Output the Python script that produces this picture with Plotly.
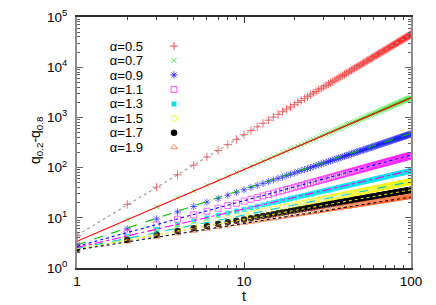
import plotly.graph_objects as go

T = list(range(1, 101))

LABELS = ["α=0.5", "α=0.7", "α=0.9", "α=1.1", "α=1.3", "α=1.5", "α=1.7", "α=1.9"]

Q05 = [4.4, 18.5, 41, 72, 112, 163, 220, 287, 365, 450,
       545, 648, 760, 880, 1010, 1150, 1300, 1460, 1620, 1800,
       1980, 2180, 2380, 2590, 2810, 3040, 3280, 3530, 3780, 4050,
       4320, 4610, 4900, 5200, 5510, 5830, 6160, 6500, 6840, 7200,
       7560, 7940, 8320, 8710, 9110, 9520, 9940, 10400, 10800, 11250,
       11700, 12200, 12600, 13100, 13600, 14100, 14600, 15100, 15700, 16200,
       16700, 17300, 17900, 18400, 19000, 19600, 20200, 20800, 21400, 22000,
       22700, 23300, 24000, 24600, 25300, 26000, 26700, 27400, 28100, 28800,
       29500, 30300, 31000, 31800, 32500, 33300, 34100, 34800, 35600, 36500,
       37300, 38100, 38900, 39800, 40600, 41500, 42300, 43200, 44100, 45000]

Q07 = [3.8, 9.3, 16.6, 25.0, 34.4, 44.6, 55.6, 67.3, 79.6, 92.5,
       106, 120, 135, 150, 165, 181, 198, 214, 232, 249,
       267, 285, 304, 323, 343, 362, 382, 403, 424, 445,
       466, 488, 509, 532, 554, 577, 600, 623, 647, 671,
       695, 719, 744, 769, 794, 819, 845, 870, 896, 923,
       949, 976, 1003, 1030, 1057, 1085, 1113, 1140, 1169, 1197,
       1226, 1254, 1283, 1313, 1342, 1371, 1402, 1431, 1461, 1492,
       1522, 1553, 1584, 1615, 1647, 1678, 1709, 1741, 1773, 1805,
       1838, 1870, 1903, 1936, 1969, 2001, 2035, 2069, 2102, 2136,
       2170, 2204, 2239, 2273, 2307, 2343, 2377, 2412, 2448, 2483]

Q09 = [2.9, 6.05, 9.49, 13.1, 16.8, 20.5, 24.3, 28.2, 32.2, 36.2,
       40.2, 44.3, 48.4, 52.6, 56.8, 61.0, 65.2, 69.5, 73.8, 78.1,
       82.5, 86.9, 91.2, 95.7, 100, 105, 109, 114, 118, 123,
       127, 132, 136, 141, 146, 150, 155, 159, 164, 169,
       174, 178, 183, 188, 192, 197, 202, 207, 212, 216,
       221, 226, 231, 236, 240, 245, 250, 255, 260, 265,
       270, 275, 280, 285, 289, 294, 299, 304, 309, 314,
       319, 324, 329, 334, 339, 344, 349, 355, 360, 365,
       370, 375, 380, 385, 390, 395, 400, 405, 410, 416,
       421, 426, 431, 436, 441, 447, 452, 457, 462, 467]

Q11 = [2.7, 5.0, 7.19, 9.35, 11.5, 13.5, 15.5, 17.6, 19.5, 21.5,
       23.4, 25.4, 27.3, 29.2, 31.1, 32.9, 34.8, 36.7, 38.5, 40.4,
       42.2, 44.0, 45.8, 47.6, 49.4, 51.2, 53.0, 54.8, 56.6, 58.3,
       60.1, 61.9, 63.6, 65.4, 67.1, 68.9, 70.6, 72.4, 74.1, 75.8,
       77.5, 79.2, 80.9, 82.6, 84.4, 86.1, 87.8, 89.4, 91.1, 92.8,
       94.5, 96.2, 97.9, 99.6, 101, 103, 105, 106, 108, 110,
       111, 113, 115, 116, 118, 120, 121, 123, 124, 126,
       128, 129, 131, 133, 134, 136, 138, 139, 141, 142,
       144, 146, 147, 149, 150, 152, 154, 155, 157, 158,
       160, 162, 163, 165, 166, 168, 170, 171, 173, 174]

Q13 = [2.5, 4.26, 5.82, 7.26, 8.62, 9.92, 11.2, 12.4, 13.6, 14.7,
       15.8, 16.9, 18.0, 19.0, 20.1, 21.1, 22.1, 23.1, 24.1, 25.0,
       26.0, 27.0, 27.9, 28.8, 29.7, 30.6, 31.5, 32.4, 33.3, 34.2,
       35.1, 35.9, 36.8, 37.7, 38.5, 39.4, 40.2, 41.0, 41.9, 42.7,
       43.5, 44.3, 45.1, 45.9, 46.7, 47.5, 48.3, 49.1, 49.9, 50.7,
       51.5, 52.2, 53.0, 53.8, 54.5, 55.3, 56.0, 56.8, 57.6, 58.3,
       59.1, 59.8, 60.5, 61.3, 62.0, 62.7, 63.5, 64.2, 64.9, 65.7,
       66.4, 67.1, 67.8, 68.5, 69.2, 69.9, 70.6, 71.3, 72.0, 72.7,
       73.4, 74.1, 74.8, 75.5, 76.2, 76.9, 77.6, 78.3, 79.0, 79.6,
       80.3, 81.0, 81.7, 82.4, 83.0, 83.7, 84.4, 85.0, 85.7, 86.4]

Q15 = [2.45, 3.89, 5.10, 6.17, 7.16, 8.09, 8.97, 9.80, 10.6, 11.4,
       12.1, 12.9, 13.6, 14.2, 14.9, 15.6, 16.2, 16.8, 17.5, 18.1,
       18.7, 19.2, 19.8, 20.4, 21.0, 21.5, 22.1, 22.6, 23.1, 23.7,
       24.2, 24.7, 25.2, 25.7, 26.2, 26.7, 27.2, 27.7, 28.2, 28.7,
       29.1, 29.6, 30.1, 30.5, 31.0, 31.5, 31.9, 32.4, 32.8, 33.3,
       33.7, 34.1, 34.6, 35.0, 35.4, 35.9, 36.3, 36.7, 37.1, 37.5,
       38.0, 38.4, 38.8, 39.2, 39.6, 40.0, 40.4, 40.8, 41.2, 41.6,
       42.0, 42.4, 42.8, 43.2, 43.6, 44.0, 44.4, 44.7, 45.1, 45.5,
       45.9, 46.3, 46.6, 47.0, 47.4, 47.7, 48.1, 48.5, 48.9, 49.2,
       49.6, 49.9, 50.3, 50.7, 51.0, 51.4, 51.7, 52.1, 52.4, 52.8]

Q17 = [2.35, 3.61, 4.58, 5.43, 6.19, 6.89, 7.54, 8.15, 8.74, 9.30,
       9.83, 10.4, 10.9, 11.3, 11.8, 12.3, 12.7, 13.1, 13.6, 14.0,
       14.4, 14.8, 15.2, 15.6, 15.9, 16.3, 16.7, 17.0, 17.4, 17.8,
       18.1, 18.4, 18.8, 19.1, 19.4, 19.8, 20.1, 20.4, 20.7, 21.0,
       21.3, 21.6, 21.9, 22.2, 22.5, 22.8, 23.1, 23.4, 23.7, 24.0,
       24.2, 24.5, 24.8, 25.1, 25.3, 25.6, 25.9, 26.2, 26.4, 26.7,
       26.9, 27.2, 27.5, 27.7, 28.0, 28.2, 28.5, 28.7, 29.0, 29.2,
       29.5, 29.7, 29.9, 30.2, 30.4, 30.7, 30.9, 31.1, 31.4, 31.6,
       31.8, 32.1, 32.3, 32.5, 32.7, 33.0, 33.2, 33.4, 33.6, 33.9,
       34.1, 34.3, 34.5, 34.7, 35.0, 35.2, 35.4, 35.6, 35.8, 36.0]

Q19 = [2.25, 3.38, 4.19, 4.88, 5.48, 6.04, 6.55, 7.02, 7.47, 7.90,
       8.30, 8.69, 9.07, 9.43, 9.77, 10.1, 10.4, 10.8, 11.1, 11.4,
       11.7, 12.0, 12.2, 12.5, 12.8, 13.1, 13.3, 13.6, 13.8, 14.1,
       14.3, 14.6, 14.8, 15.0, 15.3, 15.5, 15.7, 15.9, 16.2, 16.4,
       16.6, 16.8, 17.0, 17.2, 17.4, 17.6, 17.8, 18.0, 18.2, 18.4,
       18.6, 18.8, 19.0, 19.2, 19.4, 19.6, 19.7, 19.9, 20.1, 20.3,
       20.5, 20.6, 20.8, 21.0, 21.1, 21.3, 21.5, 21.7, 21.8, 22.0,
       22.2, 22.3, 22.5, 22.6, 22.8, 23.0, 23.1, 23.3, 23.4, 23.6,
       23.7, 23.9, 24.0, 24.2, 24.4, 24.5, 24.7, 24.8, 25.0, 25.1,
       25.2, 25.4, 25.5, 25.7, 25.8, 26.0, 26.1, 26.3, 26.4, 26.5]

SERIES = [Q05, Q07, Q09, Q11, Q13, Q15, Q17, Q19]

# fitted asymptotic lines (endpoints at t=1 and t=100)
LINE_T = [1, 100]
LINE_05 = [4.5, 45000]
LINE_07 = [3.4, 2450]
LINE_09 = [2.9, 482]
LINE_11 = [2.7, 178]
LINE_13 = [2.55, 88]
LINE_15 = [2.45, 52.6]
LINE_17 = [2.4, 36]
LINE_19 = [2.3, 26]
LINES = [LINE_05, LINE_07, LINE_09, LINE_11, LINE_13, LINE_15, LINE_17, LINE_19]

Y_TICKS = [1, 10, 100, 1000, 10000, 100000]
Y_TICKTEXT = ["10<sup>0</sup>", "10<sup>1</sup>", "10<sup>2</sup>",
              "10<sup>3</sup>", "10<sup>4</sup>", "10<sup>5</sup>"]
X_TICKS = [1, 10, 100]
X_TICKTEXT = ["1", "10", "100"]
X_MINOR = [2, 3, 4, 5, 6, 7, 8, 9, 20, 30, 40, 50, 60, 70, 80, 90]
Y_MINOR = [m * 10 ** k for k in range(5) for m in range(2, 10)]

COLORS = ["#ff2020", "#20e020", "#2020ff", "#ff20ff", "#00e8e8", "#f4f400", "#000000", "#ff6a30"]
SYMBOLS = ["cross-thin-open", "x-thin-open", "asterisk-open", "square-open",
           "square", "circle-open", "circle", "triangle-up-open"]
SIZES = [6, 5, 6, 6, 5, 6, 6.5, 6]

LINE_COLORS = ["#9a9a9a", "#ff0000", "#00c000", "#0000ff", "#ff00ff", "#00d0d0", "#e0e000", "#000000"]
LINE_DASH = ["dot", "solid", "dash", "dot", "dashdot", "dash", "dot", "dot"]

FONT = "Liberation Sans, Arial, sans-serif"

fig = go.Figure()

for lab, vals, col, sym, sz in zip(LABELS, SERIES, COLORS, SYMBOLS, SIZES):
    filled = sym in ("square", "circle")
    fig.add_trace(go.Scatter(
        x=T, y=vals, mode="markers", name=lab, showlegend=False,
        marker=dict(symbol=sym, size=sz, color=col, opacity=0.85,
                    line=dict(color=col, width=0.8 if not filled else 0)),
    ))

for vals, col, dash in zip(LINES, LINE_COLORS, LINE_DASH):
    fig.add_trace(go.Scatter(
        x=LINE_T, y=vals, mode="lines", showlegend=False, hoverinfo="skip",
        line=dict(color=col, width=1.1, dash=dash),
    ))

# key (gnuplot style: text on the left, symbol on the right)
for lab, col, sym, sz in zip(LABELS, COLORS, SYMBOLS, SIZES):
    filled = sym in ("square", "circle")
    fig.add_trace(go.Scatter(
        x=[0], y=[lab], mode="markers", xaxis="x2", yaxis="y2",
        showlegend=False, hoverinfo="skip",
        marker=dict(symbol=sym, size=sz, color=col,
                    line=dict(color=col, width=0.8 if not filled else 0)),
    ))

W, H = 436, 305
ML, MR, MT, MB = 77, 25, 17, 37
PW = W - ML - MR
PH = H - MT - MB

def px_x(px):
    return (px - ML) / PW

def px_y(py):
    return (H - MB - py) / PH

fig.update_layout(
    width=W, height=H,
    margin=dict(l=ML, r=MR, t=MT, b=MB, autoexpand=False),
    paper_bgcolor="white", plot_bgcolor="white",
    font=dict(family=FONT, size=13.5, color="black"),
    showlegend=False,
    xaxis=dict(
        type="log", range=[0, 2],
        tickmode="array", tickvals=X_TICKS, ticktext=X_TICKTEXT,
        ticks="inside", ticklen=6, tickcolor="#404040", tickwidth=1,
        minor=dict(ticks="inside", ticklen=3, tickcolor="#404040",
                   tickmode="array", tickvals=X_MINOR),
        showline=True, linecolor="#303030", linewidth=1.5, mirror="allticks",
        showgrid=False, zeroline=False,
        tickfont=dict(size=13.5),
    ),
    yaxis=dict(
        type="log", range=[0, 5],
        tickmode="array", tickvals=Y_TICKS, ticktext=Y_TICKTEXT,
        ticks="inside", ticklen=6, tickcolor="#606060", tickwidth=1,
        minor=dict(ticks="inside", ticklen=3, tickcolor="#606060",
                   tickmode="array", tickvals=Y_MINOR),
        showline=True, linecolor="#8c8c8c", linewidth=2, mirror="allticks",
        showgrid=False, zeroline=False, ticklabelstandoff=5,
        tickfont=dict(size=13.5),
    ),
    xaxis2=dict(domain=[px_x(146), px_x(202)], range=[-1, 1], anchor="y2",
                visible=False, fixedrange=True),
    yaxis2=dict(domain=[px_y(154.5), px_y(38.8)], anchor="x2", type="category",
                categoryorder="array", categoryarray=LABELS, range=[7.5, -0.5],
                tickmode="array", tickvals=LABELS, ticktext=LABELS,
                showline=False, showgrid=False, zeroline=False, ticks="",
                ticklabelstandoff=2, tickfont=dict(size=13), fixedrange=True),
    annotations=[
        dict(text="t", xref="paper", yref="paper", x=0.5, y=px_y(296),
             xanchor="center", yanchor="middle", showarrow=False,
             font=dict(size=14)),
        dict(text="q<sub>0.2</sub>-q<sub>0.8</sub>", xref="paper", yref="paper",
             x=px_x(36), y=px_y(140), textangle=-90,
             xanchor="center", yanchor="middle", showarrow=False,
             font=dict(size=14)),
    ],
)

fig.write_html("out.html", config={"displayModeBar": False},
               post_script="document.body.style.margin='0';")
